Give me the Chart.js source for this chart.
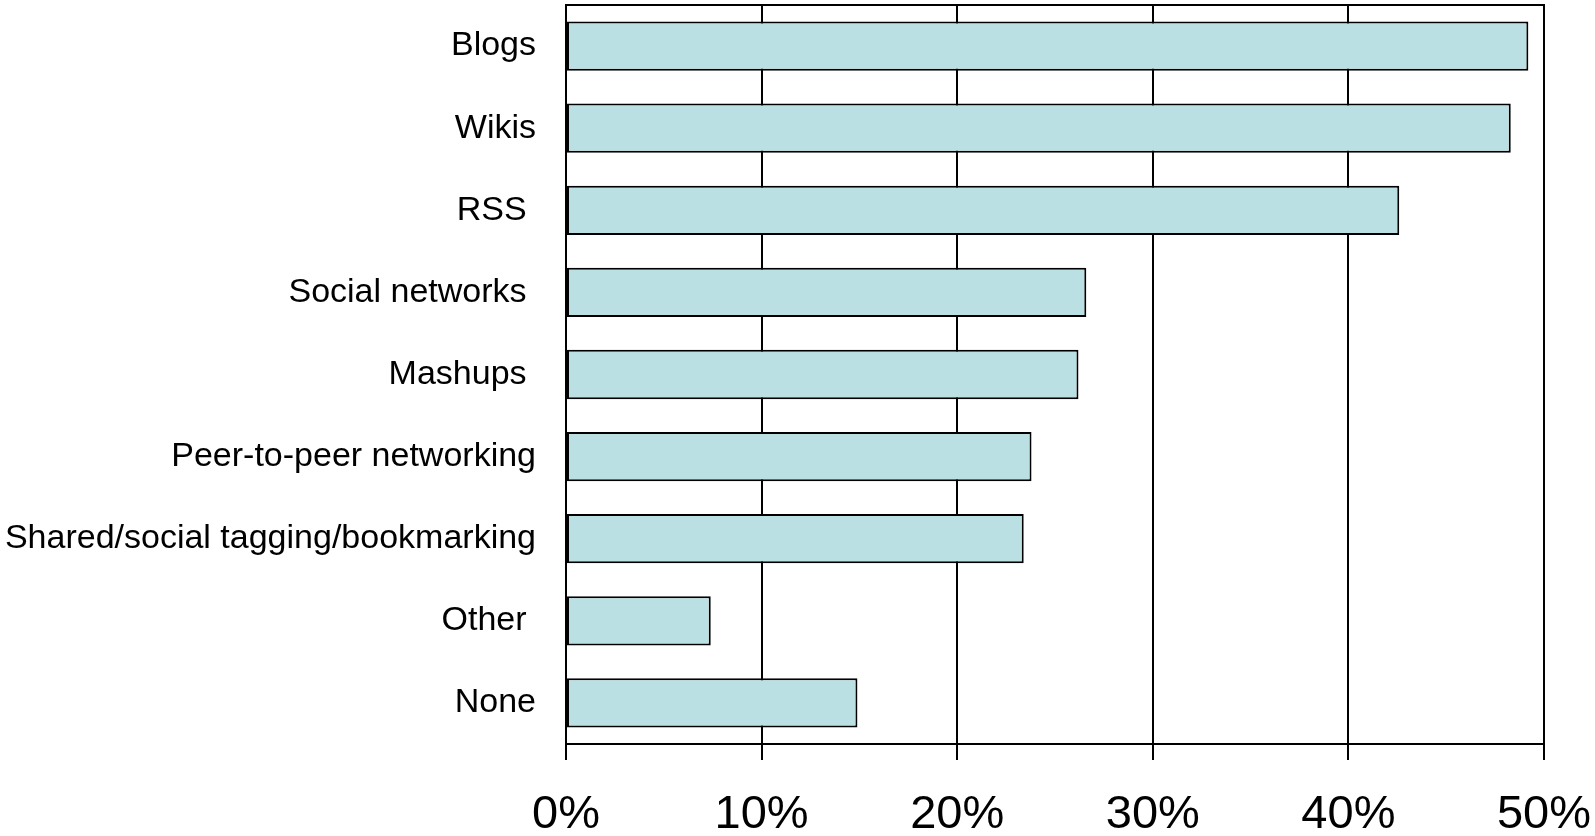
<!DOCTYPE html>
<html>
<head>
<meta charset="utf-8">
<script src="https://cdn.jsdelivr.net/npm/chart.js@4.4.0/dist/chart.umd.min.js"></script>
<style>
  html, body { margin: 0; padding: 0; background: #fff; }
  #wrap { width: 1595px; height: 836px; position: relative; }
</style>
</head>
<body>
<div id="wrap"><canvas id="myChart"></canvas></div>
<script>
const categories = ['Blogs', 'Wikis', 'RSS ', 'Social networks ', 'Mashups ', 'Peer-to-peer networking', 'Shared/social tagging/bookmarking', 'Other ', 'None'];
const shares = [49.2, 48.3, 42.6, 26.6, 26.2, 23.8, 23.4, 7.4, 14.9];
const tickValues = [0, 10, 20, 30, 40, 50];

const frameBox = {
  id: 'frameBox',
  beforeDatasetsDraw(chart) {
    const { ctx, chartArea: { top, right, bottom, left } } = chart;
    ctx.save();
    ctx.strokeStyle = '#000';
    ctx.lineWidth = 2;
    ctx.beginPath();
    ctx.moveTo(left, top);
    ctx.lineTo(right, top);
    ctx.lineTo(right, bottom);
    ctx.stroke();
    ctx.restore();
  }
};

var ctx1 = document.getElementById('myChart');

var myChart = new Chart(ctx1, {
  type: 'bar',
  data: {
    labels: categories,
    datasets: [{
      data: shares,
      backgroundColor: 'rgb(187,224,227)',
      borderColor: '#000',
      borderWidth: 2,
      borderSkipped: false,
      barPercentage: 0.6,
      categoryPercentage: 1.0
    }]
  },
  options: {
    indexAxis: 'y',
    responsive: true,
    maintainAspectRatio: false,
    animation: false,
    layout: { padding: { top: 5, right: 51, left: 0, bottom: 0 } },
    plugins: {
      legend: { display: false },
      title: { display: false },
      tooltip: { enabled: false }
    },
    scales: {
      x: {
        min: 0,
        max: 50,
        afterBuildTicks(scale) {
          scale.ticks = tickValues.map(v => ({ value: v }));
        },
        afterFit(scale) {
          scale.height = 92;
          scale.paddingLeft = 0;
          scale.paddingRight = 0;
        },
        grid: {
          display: true,
          color: '#000',
          lineWidth: 2,
          drawTicks: true,
          tickLength: 16,
          tickColor: '#000'
        },
        border: { display: true, color: '#000', width: 2 },
        ticks: {
          color: '#000',
          padding: 27,
          maxRotation: 0,
          font: { family: 'Liberation Sans, Arial, sans-serif', size: 47 },
          callback: (v) => v + '%'
        }
      },
      y: {
        afterFit(scale) {
          scale.width = 566;
          scale.paddingTop = 0;
          scale.paddingBottom = 0;
        },
        grid: { display: false },
        border: { display: true, color: '#000', width: 2 },
        ticks: {
          color: '#000',
          padding: 22,
          font: { family: 'Liberation Sans, Arial, sans-serif', size: 34 }
        }
      }
    }
  },
  plugins: [frameBox]
});
</script>
</body>
</html>
